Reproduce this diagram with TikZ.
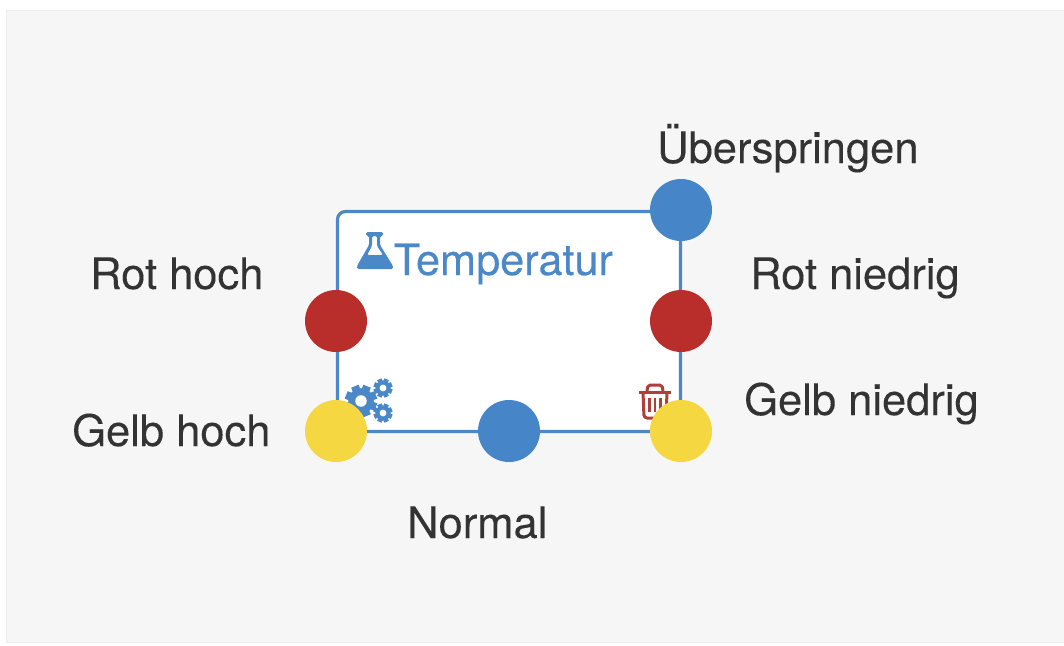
\documentclass[tikz,border=0pt]{standalone}
\usepackage{fontspec}
\setmainfont{TeX Gyre Heros}[FakeBold=0.12]
\newfontfamily\titlefont{TeX Gyre Heros}[FakeBold=0.35]
\definecolor{bgpanel}{HTML}{F6F6F6}
\definecolor{bgedge}{HTML}{EFEFEF}
\definecolor{boxblue}{HTML}{4A88C7}
\definecolor{portblue}{HTML}{4585C8}
\definecolor{portred}{HTML}{B92E2A}
\definecolor{trashred}{HTML}{AE403A}
\definecolor{portyellow}{HTML}{F5D741}
\definecolor{labeltext}{HTML}{333333}
\newcommand{\gearicon}[3]{% x, y, outer radius
  \begin{scope}[shift={(#1,#2)}]
    \fill[boxblue] (0,0) circle[radius=#3*0.8];
    \foreach \gearangle in {0,45,...,315}{
      \fill[boxblue,rotate=\gearangle+22.5] (-#3*0.25,0) rectangle (#3*0.25,#3);
    }
    \fill[white] (0,0) circle[radius=#3*0.36];
  \end{scope}
}
\tikzset{
  x=1pt,y=-1pt,
  port/.style={circle,inner sep=0pt,minimum size=62pt,draw=none},
  caption/.style={font=\fontsize{43.5}{44}\selectfont,text=labeltext,anchor=base west,inner sep=0pt},
}
\begin{document}
\begin{tikzpicture}
\useasboundingbox (0,0) rectangle (1064,645);
\fill[white] (0,0) rectangle (1064,645);
\fill[bgpanel,draw=bgedge,line width=1pt] (6,10) rectangle (1066,642);
\node[draw=boxblue,fill=white,line width=3.2pt,rounded corners=8pt,minimum width=343pt,minimum height=220pt,inner sep=0pt,outer sep=0pt,anchor=north west] (card) at (337.5,211.5) {};
\node[anchor=base west,inner sep=0pt,font=\titlefont\fontsize{43.2}{44}\selectfont,text=boxblue] (title) at (393.5,275) {Temperatur};
% flask
\fill[boxblue,even odd rule,rounded corners=1.5pt]
  (366,232) -- (383,232) -- (383,236) -- (380,236) -- (380,245) -- (393,266) -- (393,269) -- (357,269) -- (357,266) -- (369,245) -- (369,236) -- (366,236) -- cycle
  (372,236) -- (372,246) -- (367,255) -- (383,255) -- (377,246) -- (377,236) -- cycle;
% gears
\gearicon{361}{401}{16}
\gearicon{383}{388}{9.5}
\gearicon{383}{413}{9.5}
% trash
\begin{scope}[trashred,line width=3pt,line join=round]
  \draw (639,392) -- (671,392);
  \draw[rounded corners=2pt] (647,391) -- (648,385) -- (662,385) -- (663,391);
  \draw[rounded corners=3pt] (643,392) -- (644,418) -- (666,418) -- (667,392);
  \draw[line width=2.6pt] (649.5,398) -- (649.5,412) (655,398) -- (655,412) (660.5,398) -- (660.5,412);
\end{scope}
\node[port,fill=portblue] (skip) at (681,210) {};
\node[port,fill=portred] (redhigh) at (336,321) {};
\node[port,fill=portred] (redlow) at (681,321) {};
\node[port,fill=portyellow] (yellowhigh) at (336,431) {};
\node[port,fill=portyellow] (yellowlow) at (681,431) {};
\node[port,fill=portblue] (normal) at (509,431) {};
\node[caption] (lskip) at (657,163) {Überspringen};
\node[caption] (lredhigh) at (90,289) {Rot hoch};
\node[caption] (lredlow) at (750,289) {Rot niedrig};
\node[caption] (lyellowhigh) at (72,446) {Gelb hoch};
\node[caption] (lyellowlow) at (744,415) {Gelb niedrig};
\node[caption] (lnormal) at (407,538) {Normal};
\end{tikzpicture}
\end{document}
